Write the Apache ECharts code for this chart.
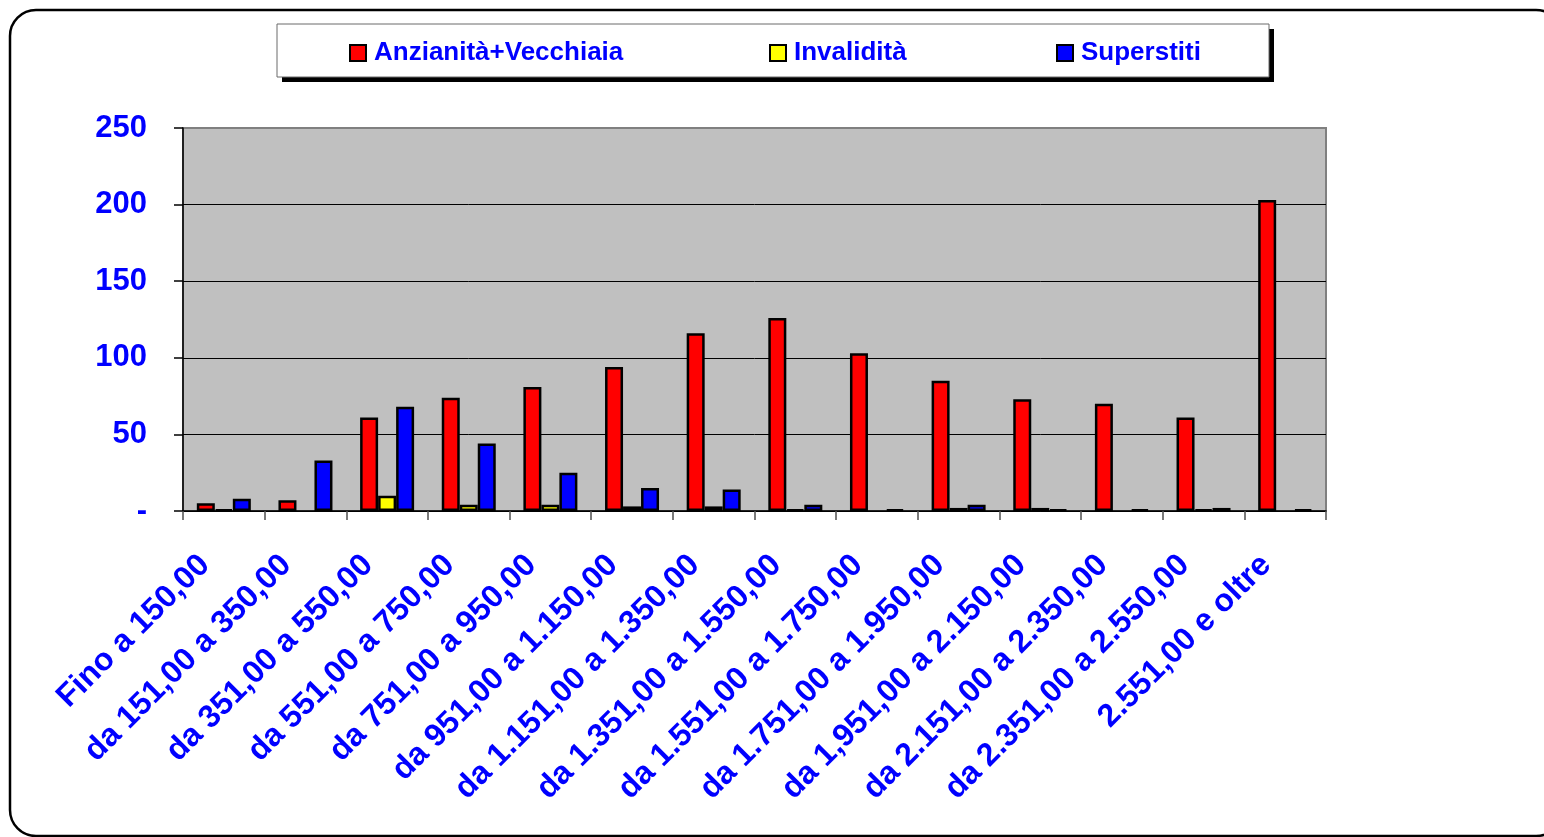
<!DOCTYPE html>
<html>
<head>
<meta charset="utf-8">
<script src="https://cdn.jsdelivr.net/npm/echarts@6/dist/echarts.min.js"></script>
<style>
  html, body { margin: 0; padding: 0; background: #ffffff; }
  #chart { width: 1544px; height: 837px; }
</style>
</head>
<body>
<div id="chart"></div>
<script>
// Fasce di importo mensile
const categories = [
  'Fino a 150,00',
  'da 151,00 a 350,00',
  'da 351,00 a 550,00',
  'da 551,00 a 750,00',
  'da 751,00 a 950,00',
  'da 951,00 a 1.150,00',
  'da 1.151,00 a 1.350,00',
  'da 1.351,00 a 1.550,00',
  'da 1.551,00 a 1.750,00',
  'da 1.751,00 a 1.950,00',
  'da 1,951,00 a 2.150,00',
  'da 2.151,00 a 2.350,00',
  'da 2.351,00 a 2.550,00',
  '2.551,00 e oltre'
];

const seriesNames = ['Anzianità+Vecchiaia', 'Invalidità', 'Superstiti'];

const anzianitaVecchiaia = [5, 7, 61, 74, 81, 94, 116, 126, 103, 85, 73, 70, 61, 203];
const invalidita         = [1, 0, 10, 4, 4, 3, 3, 1, 0, 2, 2, 0, 1, 0];
const superstiti         = [8, 33, 68, 44, 25, 15, 14, 4, 1, 4, 1, 1, 2, 1];

const yTicks = { min: 0, max: 250, step: 50 };

const colors = ['#ff0000', '#ffff00', '#0000ff'];
const blue = '#0000ff';
const font = 'Liberation Sans';

const chart = echarts.init(document.getElementById('chart'), null, { renderer: 'canvas' });

// Empty cells (zero pensions) are left blank instead of drawing a flat outline
function blankZeros(values) {
  return values.map(function (v) { return v === 0 ? '-' : v; });
}

function barSeries(name, data, color) {
  return {
    name: name,
    type: 'bar',
    data: blankZeros(data),
    barWidth: 18,
    barGap: '0%',
    itemStyle: { color: color, borderColor: '#000000', borderWidth: 2.5 },
    emphasis: { disabled: true }
  };
}

function legendAt(name, left) {
  return {
    data: [name],
    left: left,
    top: 40,
    padding: 0,
    icon: 'rect',
    itemWidth: 16,
    itemHeight: 16,
    itemGap: 0,
    selectedMode: false,
    itemStyle: { borderWidth: 2 },
    textStyle: { color: blue, fontFamily: font, fontWeight: 'bold', fontSize: 26, padding: [0, 0, 0, 3] }
  };
}

const option = {
  backgroundColor: '#ffffff',
  animation: false,
  graphic: [
    {
      type: 'rect', z: -10,
      shape: { x: 10, y: 10, width: 1552, height: 826, r: 26 },
      style: { fill: null, stroke: '#000000', lineWidth: 2.5 }
    },
    {
      type: 'rect', z: -9,
      shape: { x: 282, y: 29, width: 992, height: 53 },
      style: { fill: '#000000' }
    },
    {
      type: 'rect', z: -8,
      shape: { x: 277, y: 24, width: 992, height: 53 },
      style: { fill: '#ffffff', stroke: '#6a6a6a', lineWidth: 1 }
    }
  ],
  legend: [
    legendAt(seriesNames[0], 349),
    legendAt(seriesNames[1], 769),
    legendAt(seriesNames[2], 1056)
  ],
  grid: {
    left: 183, top: 128, width: 1143, height: 383,
    show: true,
    backgroundColor: '#c0c0c0',
    borderColor: '#808080',
    borderWidth: 2,
    containLabel: false
  },
  xAxis: {
    type: 'category',
    data: categories,
    boundaryGap: true,
    axisLine: { lineStyle: { color: '#000000', width: 1.5 } },
    axisTick: { show: true, alignWithLabel: false, length: 9, lineStyle: { color: '#505050', width: 1.5 } },
    axisLabel: {
      interval: 0,
      rotate: 45,
      margin: 30,
      padding: [0, 27, 0, 0],
      color: blue,
      fontFamily: font,
      fontWeight: 'bold',
      fontSize: 32
    },
    splitLine: { show: false }
  },
  yAxis: {
    type: 'value',
    min: yTicks.min,
    max: yTicks.max,
    interval: yTicks.step,
    axisLine: { show: true, lineStyle: { color: '#000000', width: 1.5 } },
    axisTick: { show: true, length: 9, lineStyle: { color: '#000000', width: 1.5 } },
    axisLabel: {
      margin: 36,
      color: blue,
      fontFamily: font,
      fontWeight: 'bold',
      fontSize: 31,
      formatter: function (v) { return v === 0 ? '-' : String(v); }
    },
    splitLine: { show: true, showMaxLine: false, lineStyle: { color: '#000000', width: 1 } }
  },
  series: [
    barSeries(seriesNames[0], anzianitaVecchiaia, colors[0]),
    barSeries(seriesNames[1], invalidita, colors[1]),
    barSeries(seriesNames[2], superstiti, colors[2])
  ]
};

chart.setOption(option);
</script>
</body>
</html>
